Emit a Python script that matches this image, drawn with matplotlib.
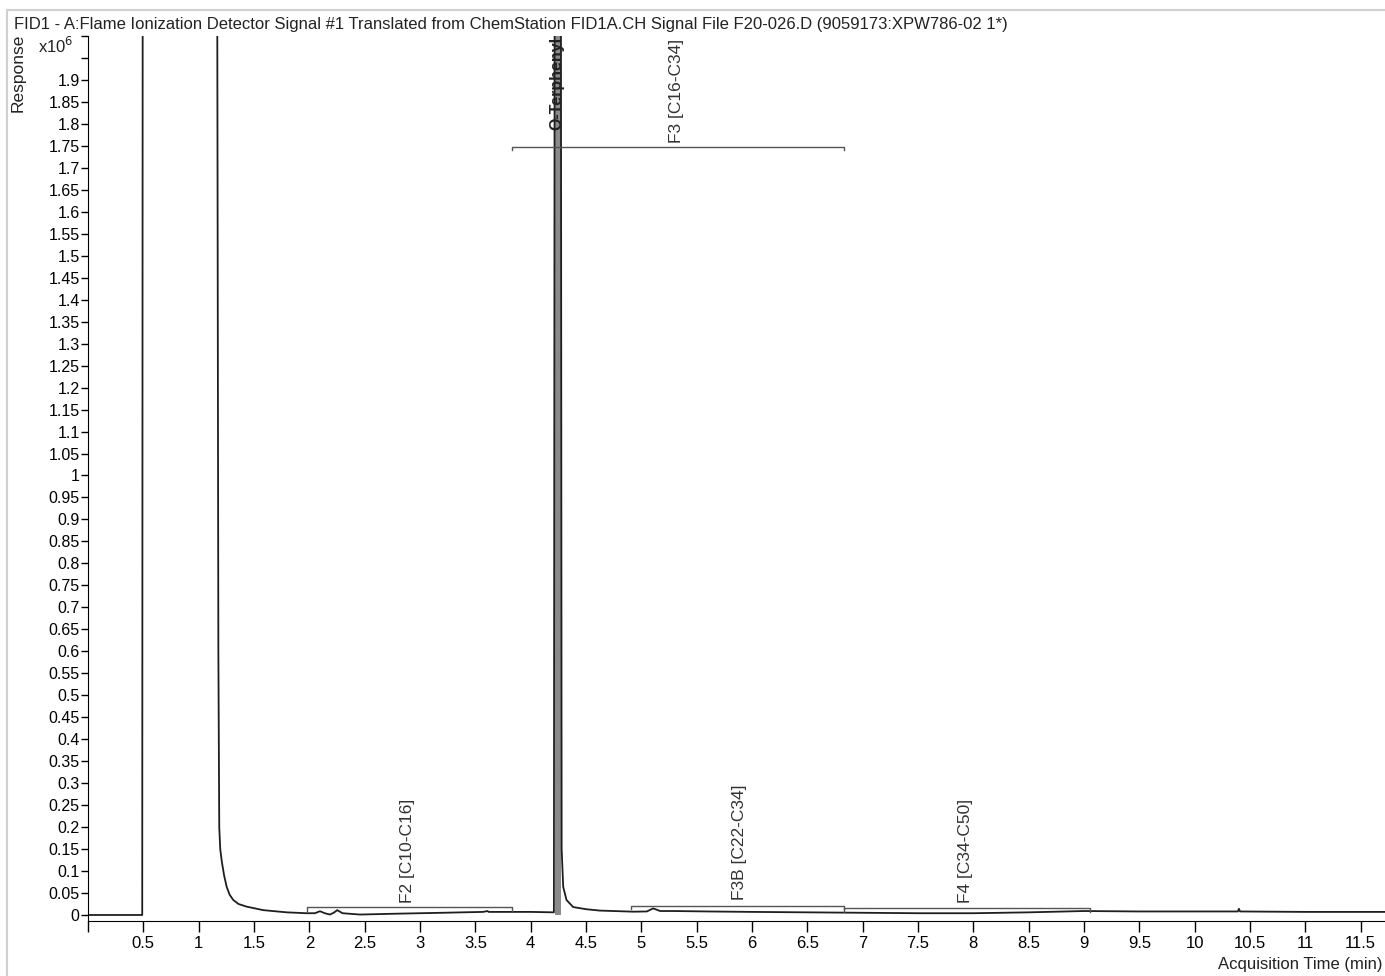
import matplotlib
matplotlib.use('Agg')
import matplotlib.pyplot as plt
from matplotlib.patches import Rectangle

plt.rcParams['font.family'] = ['Liberation Sans', 'DejaVu Sans']

# chromatogram trace (response in x10^6)
time_min = [0.0, 0.3, 0.48, 0.49, 0.495, 1.165, 1.178, 1.186, 1.195, 1.21,
            1.23, 1.253, 1.28, 1.313, 1.36, 1.433, 1.584, 1.795, 1.975, 2.05,
            2.096, 2.14, 2.186, 2.22, 2.252, 2.30, 2.457, 2.8, 3.2, 3.57,
            3.61, 3.62, 4.0, 4.21, 4.218, 4.272, 4.28, 4.294, 4.324, 4.384,
            4.505, 4.625, 4.93, 5.05, 5.107, 5.17, 5.29, 5.6, 6.0, 6.5,
            7.0, 7.5, 8.0, 8.5, 9.0, 9.5, 10.0, 10.39, 10.40, 10.41,
            11.0, 11.72]
response = [0.0, 0.0, 0.0, 0.0, 2.5, 2.5, 0.6, 0.2, 0.15, 0.12,
            0.09, 0.064, 0.046, 0.034, 0.025, 0.019, 0.011, 0.006, 0.004, 0.004,
            0.0085, 0.004, 0.001, 0.005, 0.011, 0.004, 0.001, 0.003, 0.005, 0.007,
            0.009, 0.007, 0.007, 0.006, 2.5, 2.5, 0.15, 0.064, 0.034, 0.018,
            0.013, 0.010, 0.0075, 0.008, 0.015, 0.009, 0.009, 0.008, 0.007, 0.006,
            0.005, 0.004, 0.004, 0.006, 0.009, 0.008, 0.008, 0.008, 0.014, 0.008,
            0.007, 0.007]

# integration windows: name, start, end, bracket height, label position
win_names = ['F2 [C10-C16]', 'F3 [C16-C34]', 'F3B [C22-C34]', 'F4 [C34-C50]']
win_start = [1.975, 3.83, 4.905, 6.83]
win_end = [3.83, 6.83, 6.83, 9.05]
win_level = [0.018, 1.748, 0.021, 0.015]
win_label_x = [2.89, 5.32, 5.89, 7.93]
win_label_y = [0.027, 1.757, 0.033, 0.027]

peak_name = 'O-Terphenyl'
peak_time = 4.237
peak_edges = [4.22, 4.27]

fig = plt.figure(figsize=(13.85, 9.76), dpi=100)
ax = fig.add_axes([88 / 1385, 55 / 976, 1 - 88 / 1385, (921 - 36) / 976])

# window frame lines
fig.patches.append(Rectangle((7 / 1385, -0.01), 1.1, 966 / 976 + 0.01,
                             transform=fig.transFigure, fill=False,
                             edgecolor='#d0d0d0', lw=1.5))

ax.fill_between(peak_edges, 0, 2.5, color='#8a8a8a', lw=0)
ax.plot(time_min, response, color='#1e1e1e', lw=1.3)

for s, e, lev in zip(win_start, win_end, win_level):
    ax.plot([s, s, e, e], [lev - 0.008, lev, lev, lev - 0.008], color='#555555', lw=1.0)

for name, lx, ly in zip(win_names, win_label_x, win_label_y):
    ax.text(lx, ly, name, rotation=90, ha='center', va='bottom',
            fontsize=12.5, color='#333333')
ax.text(peak_time, 1.787, peak_name, rotation=90, ha='center', va='bottom',
        fontsize=11.5, color='#222222', fontweight='bold')

ax.set_xlim(0, 11.72)
ax.set_ylim(-0.0137, 2.0)
for side in ['top', 'right']:
    ax.spines[side].set_visible(False)

xt = [i * 0.5 for i in range(24)]
ax.set_xticks(xt)
ax.set_xticklabels([''] + ['%g' % v for v in xt[1:]])
yt = [i * 0.05 for i in range(41)]
ax.set_yticks(yt)
ax.set_yticklabels(['%g' % round(v, 2) for v in yt[:39]] + ['', ''])
ax.tick_params(axis='x', direction='out', length=8, width=1, labelsize=12, pad=3)
ax.tick_params(axis='y', direction='out', length=5, width=1, labelsize=11.5, pad=1)

fig.text(14 / 1385, 1 - 25 / 976, 'FID1 - A:Flame Ionization Detector Signal #1 Translated from '
         'ChemStation FID1A.CH Signal File F20-026.D (9059173:XPW786-02 1*)',
         ha='left', va='center', fontsize=12, color='#222222')
fig.text(18 / 1385, 1 - 73 / 976, 'Response', rotation=90, ha='center', va='center',
         fontsize=12.5, color='#222222')
fig.text(38 / 1385, 1 - 46 / 976, 'x10$^6$', ha='left', va='center',
         fontsize=12, color='#222222')
fig.text(1383 / 1385, 1 - 965 / 976, 'Acquisition Time (min)', ha='right', va='center',
         fontsize=12, color='#222222')

fig.savefig('out.png', dpi=100)
